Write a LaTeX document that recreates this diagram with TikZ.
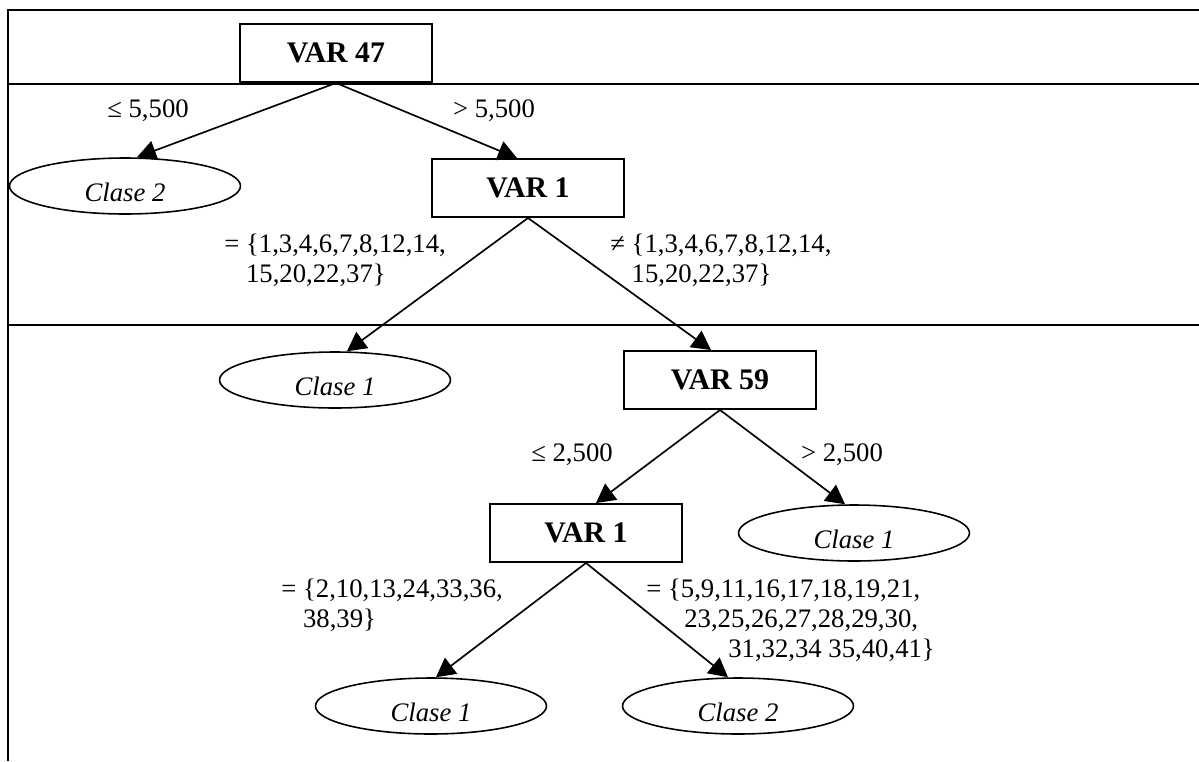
\documentclass[tikz,border=0pt]{standalone}
\usepackage{fontspec}
\setmainfont{Liberation Serif}
\usetikzlibrary{shapes.geometric,arrows.meta}

\begin{document}
\begin{tikzpicture}[x=0.02cm, y=-0.02cm,
  every node/.style={font=\fontsize{15.2}{17}\selectfont},
  varbox/.style={draw, line width=1.1pt, minimum width=3.84cm, minimum height=1.16cm,
    inner sep=0pt, font=\fontsize{17}{19}\selectfont\bfseries},
  leaf/.style={draw, ellipse, line width=0.9pt, minimum width=4.62cm, minimum height=1.12cm,
    inner sep=0pt, text height=0.63cm, text depth=0pt,
    font=\fontsize{15.2}{17}\selectfont\itshape},
  cond/.style={inner sep=0pt, align=left},
  branch/.style={-{Triangle[length=0.38cm,width=0.4cm]}, line width=0.95pt}]
  \useasboundingbox (0,0) rectangle (1199,761);

  % frame lines
  \draw[line width=1.1pt] (1199,10) -- (8,10) -- (8,761);
  \draw[line width=1.1pt] (8,84) -- (1199,84);
  \draw[line width=1.1pt] (8,325) -- (1199,325);

  % split nodes
  \node[varbox] (v47) at (336,53) {VAR 47};
  \node[varbox] (v1a) at (528,188) {VAR 1};
  \node[varbox] (v59) at (720,380) {VAR 59};
  \node[varbox] (v1b) at (586,533) {VAR 1};

  % leaves
  \node[leaf] (c2a) at (125,186) {Clase 2};
  \node[leaf] (c1a) at (335,380) {Clase 1};
  \node[leaf] (c1b) at (854,533) {Clase 1};
  \node[leaf] (c1c) at (431,706) {Clase 1};
  \node[leaf] (c2b) at (738,706) {Clase 2};

  % branches
  \draw[branch] (v47.south) -- ([xshift=0.24cm]c2a.north);
  \draw[branch] (v47.south) -- ([xshift=-0.22cm]v1a.north);
  \draw[branch] (v1a.south) -- ([xshift=0.24cm]c1a.north);
  \draw[branch] (v1a.south) -- ([xshift=-0.18cm]v59.north);
  \draw[branch] (v59.south) -- ([xshift=0.2cm]v1b.north);
  \draw[branch] (v59.south) -- ([xshift=-0.18cm]c1b.north);
  \draw[branch] (v1b.south) -- ([xshift=0.1cm]c1c.north);
  \draw[branch] (v1b.south) -- ([xshift=-0.2cm]c2b.north);

  % branch conditions
  \node[cond] (t1) at (148,111) {≤ 5,500};
  \node[cond] (t2) at (494,111) {> 5,500};
  \node[cond, anchor=west] (t3) at (224,260)
    {= \{1,3,4,6,7,8,12,14,\\\phantom{= }15,20,22,37\}};
  \node[cond, anchor=west] (t4) at (610,260)
    {≠ \{1,3,4,6,7,8,12,14,\\\phantom{≠ }15,20,22,37\}};
  \node[cond] (t5) at (572,455) {≤ 2,500};
  \node[cond] (t6) at (842,455) {> 2,500};
  \node[cond, anchor=west] (t7) at (281,605)
    {= \{2,10,13,24,33,36,\\\phantom{= }38,39\}};
  \node[cond, anchor=west] (t8) at (646,620)
    {= \{5,9,11,16,17,18,19,21,\\\hspace*{0.76cm}23,25,26,27,28,29,30,\\\hspace*{1.64cm}31,32,34 35,40,41\}};
\end{tikzpicture}
\end{document}
